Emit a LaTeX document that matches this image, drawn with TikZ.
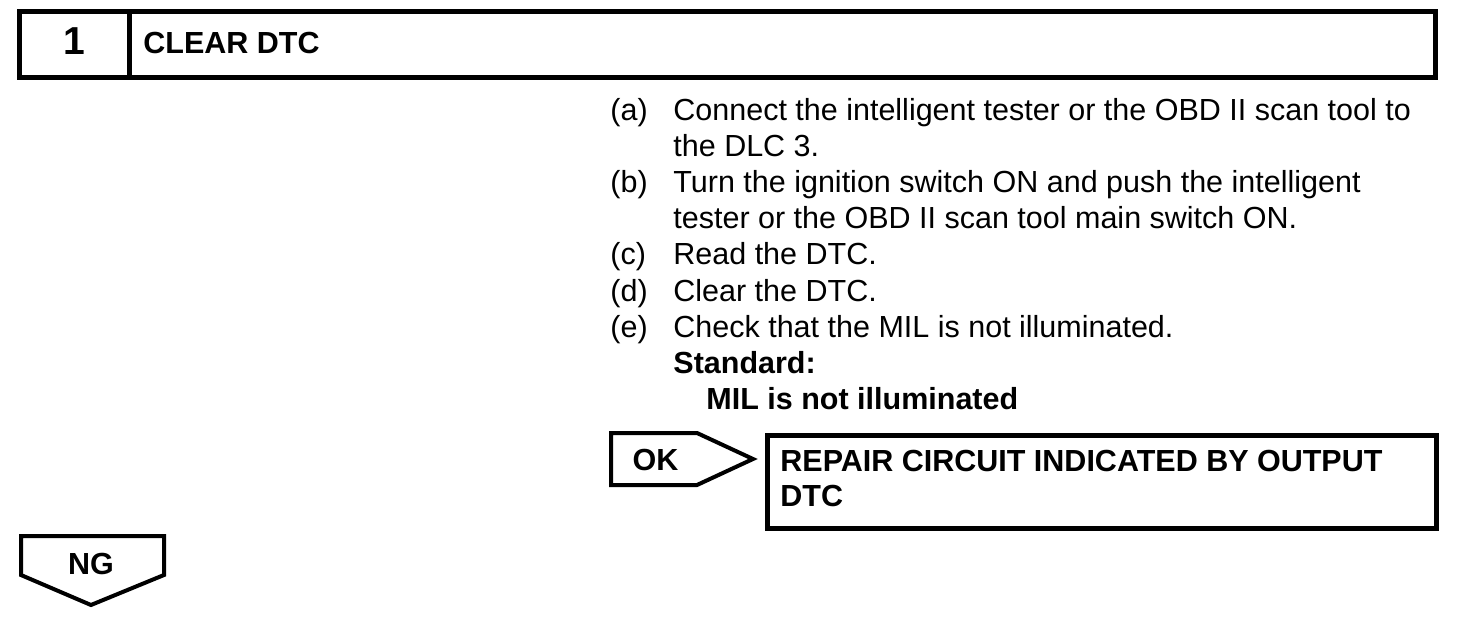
\documentclass[tikz,border=0pt]{standalone}
\usepackage{fontspec}
\setmainfont{Liberation Sans}
\begin{document}
\begin{tikzpicture}[
        x=0.5pt, y=-0.5pt,
        cell/.style={draw, line width=2.5pt, inner sep=0pt, outer sep=0pt,
                     anchor=north west},
        body/.style={anchor=base west, inner sep=0pt,
                     font=\fontsize{15.25}{18}\selectfont},
        strong/.style={anchor=base, inner sep=0pt,
                       font=\bfseries\fontsize{#1}{18}\selectfont},
        strong/.default=15.25,
        tab/.style={draw, line width=2pt, line join=miter},
    ]
    \useasboundingbox (0,0) rectangle (1472,620);

    % header bar
    \node[cell, minimum width=54.75pt, minimum height=33pt] (numcell) at (19.5,12) {};
    \node[cell, minimum width=653.25pt, minimum height=33pt] (titlecell)
        at (numcell.north east) {};
    \node[strong=19.5] (num) at (74.25,55) {1};
    \node[strong, anchor=base west] (title) at (143,53.5) {CLEAR DTC};

    % procedure
    \node[body] (lbl-a) at (610,120.5) {(a)};
    \node[body] (step-a) at (673,120.5)
        {Connect the intelligent tester or the OBD II scan tool to};
    \node[body] (step-a2) at (673,156.6) {the DLC 3.};
    \node[body] (lbl-b) at (610,192.7) {(b)};
    \node[body] (step-b) at (673,192.7)
        {Turn the ignition switch ON and push the intelligent};
    \node[body] (step-b2) at (673,228.8)
        {tester or the OBD II scan tool main switch ON.};
    \node[body] (lbl-c) at (610,264.9) {(c)};
    \node[body] (step-c) at (673,264.9) {Read the DTC.};
    \node[body] (lbl-d) at (610,301) {(d)};
    \node[body] (step-d) at (673,301) {Clear the DTC.};
    \node[body] (lbl-e) at (610,337.1) {(e)};
    \node[body] (step-e) at (673,337.1) {Check that the MIL is not illuminated.};
    \node[strong, anchor=base west] (std) at (673,373.2) {Standard:};
    \node[strong, anchor=base west] (std-val) at (706,409.3) {MIL is not illuminated};

    % OK branch
    \draw[tab] (611,433) -- (697,433) -- (753,459) -- (697,485) -- (611,485) -- cycle;
    \node[strong] (ok) at (655.5,470) {OK};
    \node[cell, minimum width=334.5pt, minimum height=46.5pt] (repair) at (767,435) {};
    \node[strong, anchor=base west] (repair-1) at (780,471)
        {REPAIR CIRCUIT INDICATED BY OUTPUT};
    \node[strong, anchor=base west] (repair-2) at (780,506) {DTC};

    % NG branch
    \draw[tab] (21,536) -- (164,536) -- (164,575) -- (91,605) -- (21,575) -- cycle;
    \node[strong] (ng) at (91,574) {NG};
\end{tikzpicture}
\end{document}
